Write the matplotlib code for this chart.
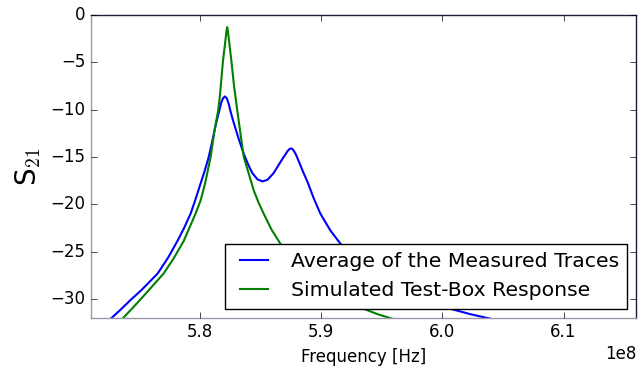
import numpy as np
import matplotlib
matplotlib.use('Agg')
import matplotlib.pyplot as plt

plt.style.use('classic')

# averaged measurement, frequency in units of 1e8 Hz, S21 in dB
freq_meas = [5.7266, 5.7350, 5.7430, 5.7520, 5.7652, 5.7740, 5.7817, 5.7870,
             5.7924, 5.7961, 5.8006, 5.8040, 5.8072, 5.8098, 5.8121, 5.8142,
             5.8162, 5.8175, 5.8190, 5.8206, 5.8222, 5.8238, 5.8255, 5.8277,
             5.8318, 5.8360, 5.8401, 5.8434, 5.8475, 5.8516, 5.8557, 5.8607,
             5.8648, 5.8689, 5.8705, 5.8722, 5.8737, 5.8750, 5.8763, 5.8780,
             5.8796, 5.8812, 5.8853, 5.8886, 5.8936, 5.8993, 5.9076, 5.9158,
             5.9240, 5.9322, 5.9400, 5.9487, 5.9652, 5.9816, 6.0045, 6.0226,
             6.0391]
s21_meas = [-32.09, -31.10, -30.10, -29.05, -27.32, -25.60, -23.83, -22.50,
            -20.97, -19.59, -17.79, -16.45, -15.04, -13.60, -12.18, -11.00,
            -10.00, -9.30, -8.80, -8.60, -8.80, -9.40, -10.30, -11.30,
            -13.00, -14.61, -15.88, -16.73, -17.37, -17.58, -17.42, -16.73,
            -15.88, -15.04, -14.75, -14.40, -14.18, -14.10, -14.15, -14.45,
            -14.85, -15.35, -16.63, -17.58, -19.27, -20.97, -22.77, -24.15,
            -25.40, -26.48, -27.40, -28.17, -29.44, -30.29, -30.98, -31.61,
            -32.09]

# simulated test-box response
freq_sim = [5.7362, 5.7450, 5.7550, 5.7701, 5.7780, 5.7866, 5.7965, 5.8006,
            5.8043, 5.8088, 5.8121, 5.8151, 5.8164, 5.8191, 5.8211, 5.8218,
            5.8225, 5.8232, 5.8240, 5.8259, 5.8281, 5.8308, 5.8331, 5.8362,
            5.8400, 5.8444, 5.8483, 5.8526, 5.8590, 5.8664, 5.8750, 5.8828,
            5.8910, 5.8993, 5.9070, 5.9157, 5.9250, 5.9346, 5.9460, 5.9582]
s21_sim = [-32.09, -30.90, -29.50, -27.32, -25.80, -23.90, -20.97, -19.59,
           -17.79, -15.04, -12.18, -10.06, -8.65, -4.77, -2.65, -1.80,
           -1.27, -1.80, -2.65, -4.77, -7.41, -10.06, -12.18, -15.01,
           -16.63, -18.53, -19.80, -20.99, -22.66, -24.18, -25.60, -26.79,
           -27.70, -28.49, -29.20, -29.86, -30.50, -31.03, -31.60, -32.09]

fig = plt.figure(figsize=(6.44, 3.69), dpi=100)
fig.patch.set_facecolor('white')
ax = fig.add_axes([0.141, 0.139, 0.847, 0.820])

ax.plot(np.array(freq_meas) * 1e8, s21_meas, 'b', lw=1.5,
        label='Average of the Measured Traces')
ax.plot(np.array(freq_sim) * 1e8, s21_sim, 'g', lw=1.5,
        label='Simulated Test-Box Response')

ax.set_xlim(5.71e8, 6.16e8)
ax.set_ylim(-32, 0)
ax.set_xticks([5.8e8, 5.9e8, 6.0e8, 6.1e8])
ax.set_yticks([-30, -25, -20, -15, -10, -5, 0])
ax.tick_params(labelsize=12)

ax.set_xlabel('Frequency [Hz]', fontsize=12)
ax.set_ylabel('S$_{21}$', fontsize=20)

for side in ['left', 'bottom']:
    ax.spines[side].set_color('#9a98aa')
for side in ['top', 'right']:
    ax.spines[side].set_color('#1c1c3a')

ax.legend(loc='lower right', fontsize=14.7, borderaxespad=0.45)

fig.savefig('out.png', dpi=100, facecolor='white')
